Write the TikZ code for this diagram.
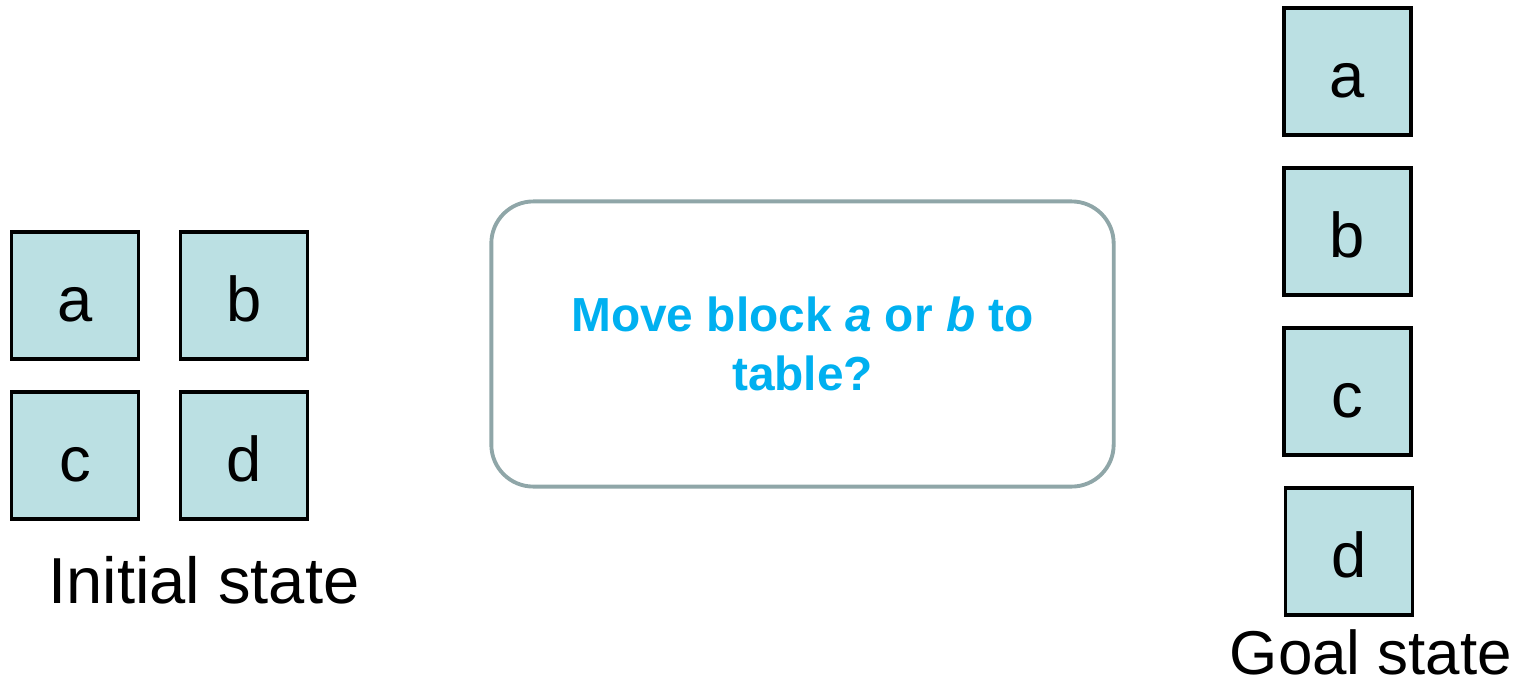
\documentclass[tikz,border=0pt]{standalone}
\usepackage{fontspec}
\setmainfont{Liberation Sans}
\definecolor{blockFill}{HTML}{BBE0E3}
\definecolor{frameGray}{HTML}{8FA6A8}
\definecolor{askBlue}{HTML}{00B0F0}

\begin{document}
\begin{tikzpicture}[x=0.01cm,y=-0.01cm,
  block/.style={draw=black,fill=blockFill,line width=0.9pt,minimum width=1.27cm,
    minimum height=1.27cm,inner sep=0pt,text height=0.52cm,text depth=0pt,
    font=\fontsize{18}{20}\selectfont},
  statelabel/.style={anchor=base,inner sep=0pt,font=\fontsize{18.5}{21}\selectfont},
  questionbox/.style={draw=frameGray,line width=1.1pt,rounded corners=0.42cm,
    minimum width=6.22cm,minimum height=2.85cm,align=center,text=askBlue,
    font=\bfseries\fontsize{13.6}{16.6}\selectfont}]
  \path[use as bounding box] (0,0) rectangle (1520,681);

  % initial state, two by two on the table
  \foreach \b/\x/\y in {a/75/295.5,b/244/295.5,c/75/455.5,d/244/455.5}
    {\node[block] (init\b) at (\x,\y) {\b};}
  \node[statelabel] (initlabel) at (204,603) {Initial state};

  % goal state, one tower
  \foreach \b/\x/\y in {a/1347.5/71.5,b/1347.5/231.5,c/1347.5/391.5,d/1349/551.5}
    {\node[block] (goal\b) at (\x,\y) {\b};}
  \node[statelabel,font=\fontsize{17.6}{20}\selectfont] (goallabel) at (1371,674)
    {Goal state};

  \node[questionbox] (question) at (802.5,344)
    {Move block \textit{a} or \textit{b} to\\table?};
\end{tikzpicture}
\end{document}
